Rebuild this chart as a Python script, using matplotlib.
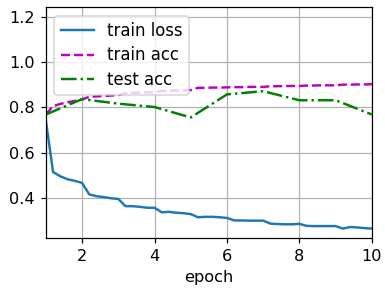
import numpy as np
import matplotlib
matplotlib.use('Agg')
import matplotlib.pyplot as plt

# train metrics logged every 0.2 epoch, test acc once per epoch
batch_epochs = np.round(np.arange(1.0, 10.01, 0.2), 1)
train_loss = [0.743, 0.514, 0.495, 0.482, 0.475, 0.466,
              0.415, 0.407, 0.403, 0.398, 0.395,
              0.363, 0.363, 0.360, 0.356, 0.356,
              0.336, 0.338, 0.334, 0.332, 0.328,
              0.314, 0.316, 0.316, 0.314, 0.311,
              0.300, 0.300, 0.299, 0.299, 0.299,
              0.286, 0.284, 0.283, 0.283, 0.285,
              0.276, 0.275, 0.275, 0.275, 0.275,
              0.264, 0.271, 0.269, 0.266, 0.264]
train_acc = [0.768, 0.805, 0.815, 0.822, 0.828, 0.835,
             0.846, 0.848, 0.850, 0.852, 0.854,
             0.862, 0.864, 0.865, 0.866, 0.867,
             0.872, 0.873, 0.874, 0.875, 0.876,
             0.886, 0.886, 0.887, 0.887, 0.888,
             0.889, 0.889, 0.890, 0.890, 0.890,
             0.893, 0.893, 0.894, 0.894, 0.894,
             0.896, 0.896, 0.897, 0.897, 0.897,
             0.900, 0.900, 0.901, 0.901, 0.902]
epochs = [1, 2, 3, 4, 5, 6, 7, 8, 9, 10]
test_acc = [0.768, 0.836, 0.816, 0.801, 0.755, 0.857, 0.871, 0.831, 0.831, 0.768]

plt.rcParams['font.size'] = 10.6

fig, ax = plt.subplots(figsize=(3.5, 294 / 110), dpi=110)
fig.subplots_adjust(left=0.119, right=0.966, top=0.975, bottom=0.189)

ax.plot(batch_epochs, train_loss, '-', lw=1.6, label='train loss')
ax.plot(batch_epochs, train_acc, 'm--', lw=1.6, label='train acc')
ax.plot(epochs, test_acc, 'g-.', lw=1.6, label='test acc')

ax.set_xlim(1, 10)
ax.set_ylim(0.2205, 1.2415)
ax.set_xticks([2, 4, 6, 8, 10])
ax.set_yticks([0.4, 0.6, 0.8, 1.0, 1.2])
ax.set_xlabel('epoch')
ax.grid()
ax.legend(loc='upper left', fontsize=10.8, labelspacing=0.38)

fig.savefig('out.png', dpi=110)
